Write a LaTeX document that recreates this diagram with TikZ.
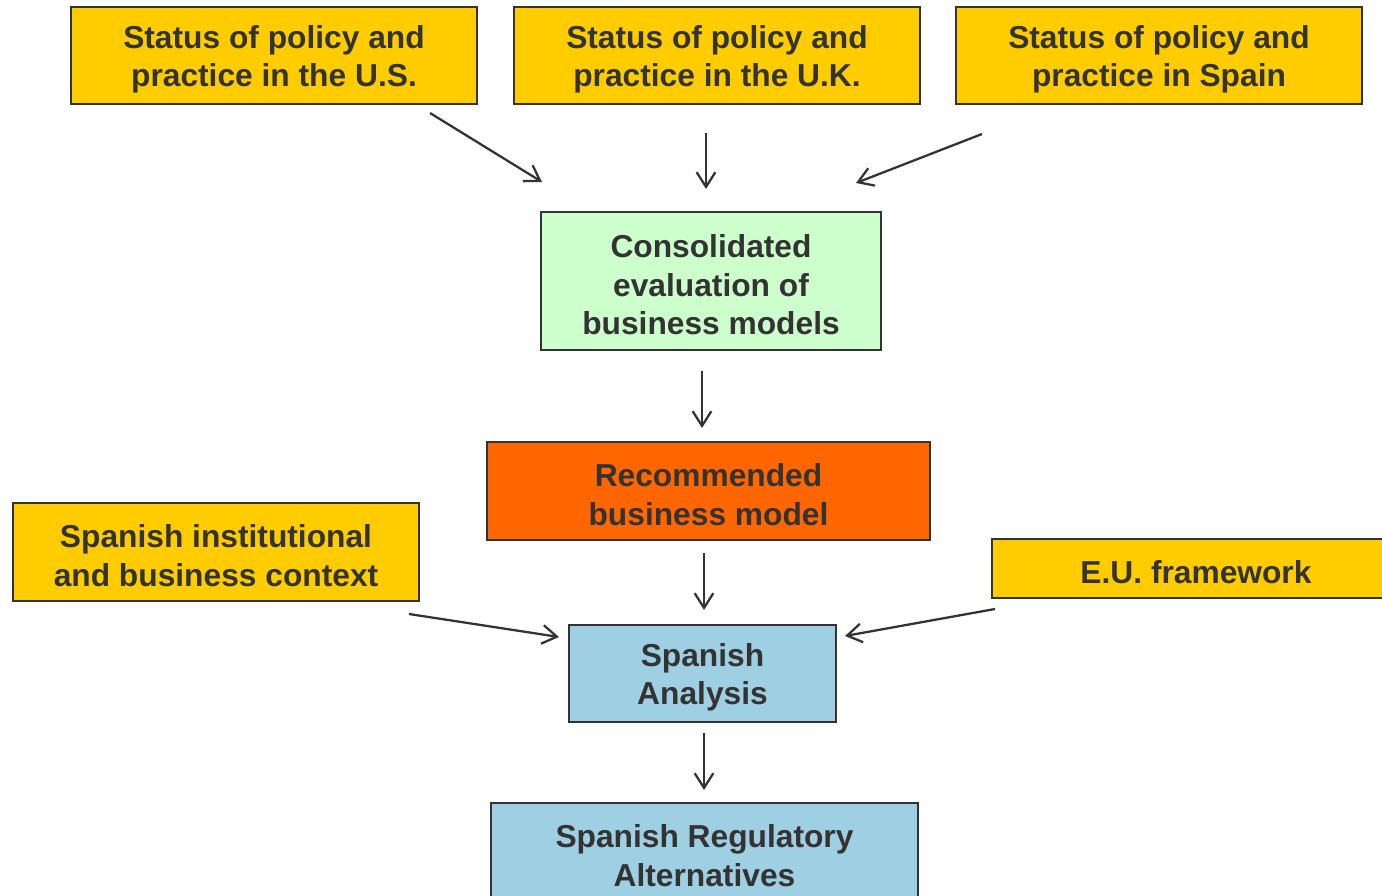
\documentclass[tikz,border=0pt]{standalone}
\usepackage{fontspec}
\setmainfont{Liberation Sans}
\usetikzlibrary{arrows.meta}
\definecolor{gold}{HTML}{FFCC00}
\definecolor{mint}{HTML}{CCFFCC}
\definecolor{flame}{HTML}{FF6600}
\definecolor{sky}{HTML}{9FCFE3}
\definecolor{ink}{HTML}{333333}
\newcommand{\lift}{\rule{0pt}{23pt}}
\begin{document}
\begin{tikzpicture}[x=0.75pt,y=-0.75pt,
    box/.style={draw=ink,line width=1.4pt,text=ink,align=center,inner sep=0pt,
      font=\fontsize{23.8pt}{29pt}\selectfont\bfseries},
    link/.style={draw=ink,line width=1.7pt,-{Straight Barb[length=11pt,width=14pt,line width=1.7pt]}}]
  \def\px{0.75pt}
  \useasboundingbox (0,0) rectangle (1382,896);
  % country boxes
  \node[box,fill=gold,minimum width={406*\px},minimum height={97*\px}] (us) at (274,55.5) {\lift Status of policy and\\practice in the U.S.};
  \node[box,fill=gold,minimum width={406*\px},minimum height={97*\px}] (uk) at (717,55.5) {\lift Status of policy and\\practice in the U.K.};
  \node[box,fill=gold,minimum width={406*\px},minimum height={97*\px}] (es) at (1159,55.5) {\lift Status of policy and\\practice in Spain};
  % evaluation chain
  \node[box,fill=mint,minimum width={340*\px},minimum height={138*\px}] (eval) at (711,281) {\lift Consolidated\\evaluation of\\business models};
  \node[box,fill=flame,minimum width={443*\px},minimum height={98*\px}] (rec) at (708.5,491) {\lift Recommended\\business model};
  \node[box,fill=gold,minimum width={406*\px},minimum height={98*\px}] (ctx) at (216,552) {\lift Spanish institutional\\and business context};
  \node[box,fill=gold,minimum width={408*\px},minimum height={59*\px}] (eu) at (1196,568.5) {\lift E.U. framework};
  \node[box,fill=sky,minimum width={267*\px},minimum height={97*\px}] (ana) at (702.5,673.5) {\lift Spanish\\Analysis};
  \node[box,fill=sky,minimum width={427*\px},minimum height={98*\px}] (alt) at (704.5,852) {\lift Spanish Regulatory\\Alternatives};
  % arrow ends
  \coordinate (usT) at (430,113);   \coordinate (usH) at (542,182);
  \coordinate (ukT) at (706,133);   \coordinate (ukH) at (706,189);
  \coordinate (esT) at (982,134);   \coordinate (esH) at (856,183);
  \coordinate (evT) at (702,371);   \coordinate (evH) at (702,428);
  \coordinate (reT) at (704,553);   \coordinate (reH) at (704,610);
  \coordinate (cxT) at (409,614);   \coordinate (cxH) at (559,637);
  \coordinate (euT) at (995,609);   \coordinate (euH) at (845,636);
  \coordinate (anT) at (704,733);   \coordinate (anH) at (704,790);
  \foreach \a in {us,uk,es,ev,re,cx,eu,an}
    \draw[link] (\a T) -- (\a H);
\end{tikzpicture}
\end{document}
